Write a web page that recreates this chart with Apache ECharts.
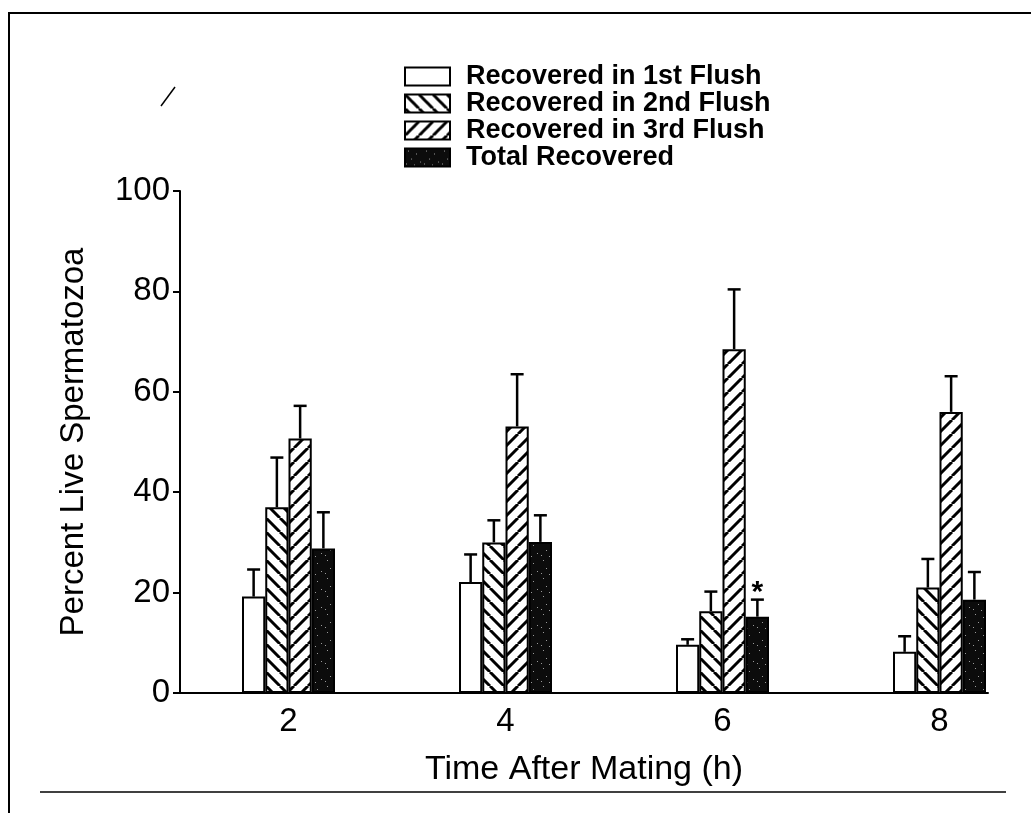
<!DOCTYPE html>
<html>
<head>
<meta charset="utf-8">
<script src="https://cdn.jsdelivr.net/npm/echarts@6/dist/echarts.min.js"></script>
<style>html,body{margin:0;padding:0;background:#fff}#c{width:1031px;height:813px}</style>
</head>
<body>
<div id="c"></div>
<script>
// ---- data ----
const hours = [2, 4, 6, 8];
const seriesNames = ['Recovered in 1st Flush', 'Recovered in 2nd Flush', 'Recovered in 3rd Flush', 'Total Recovered'];
const flush1 = [19.2, 22.1, 9.6, 8.2];
const flush1Err = [5.4, 5.5, 1.1, 3.1];
const flush2 = [37.0, 30.0, 16.3, 21.0];
const flush2Err = [9.9, 4.4, 3.9, 5.7];
const flush3 = [50.7, 53.1, 68.5, 56.0];
const flush3Err = [6.5, 10.4, 11.9, 7.1];
const total = [28.8, 30.1, 15.2, 18.6];
const totalErr = [7.2, 5.3, 3.4, 5.5];
const totalMarks = ['', '', '*', ''];
const xTitle = 'Time After Mating (h)';
const yTitle = 'Percent Live Spermatozoa';

// ---- fills ----
function stripes(dir) {
  const s = 14, c = document.createElement('canvas');
  c.width = s; c.height = s;
  const g = c.getContext('2d');
  g.fillStyle = '#fff'; g.fillRect(0, 0, s, s);
  g.strokeStyle = '#000'; g.lineWidth = 3; g.beginPath();
  for (const k of [-s, 0, s]) {
    if (dir === 'back') { g.moveTo(k, 0); g.lineTo(k + s, s); }
    else { g.moveTo(k, s); g.lineTo(k + s, 0); }
  }
  g.stroke();
  return c;
}
function speckle() {
  const s = 18, c = document.createElement('canvas');
  c.width = s; c.height = s;
  const g = c.getContext('2d');
  g.fillStyle = '#0c0c0c'; g.fillRect(0, 0, s, s);
  g.fillStyle = '#9a9a9a';
  [[3, 2], [11, 5], [6, 10], [15, 13], [1, 15], [9, 16]].forEach(p => g.fillRect(p[0], p[1], 1, 1));
  return c;
}
const fills = [
  '#ffffff',
  { image: stripes('back'), repeat: 'repeat' },
  { image: stripes('fwd'), repeat: 'repeat' },
  { image: speckle(), repeat: 'repeat' }
];

const values = [flush1, flush2, flush3, total];
const errs = [flush1Err, flush2Err, flush3Err, totalErr];
const marks = [['', '', '', ''], ['', '', '', ''], ['', '', '', ''], totalMarks];
const barW = 23.25;

const barSeries = values.map((vals, i) => ({
  type: 'bar',
  name: seriesNames[i],
  barWidth: barW,
  barGap: '0%',
  itemStyle: { color: fills[i], borderColor: '#000', borderWidth: 2 },
  data: hours.map((h, j) => [h, vals[j]])
}));

const errData = [];
const errMarks = [];
values.forEach((vals, i) => hours.forEach((h, j) => {
  errData.push([h, i, vals[j], vals[j] + errs[i][j]]);
  errMarks.push(marks[i][j]);
}));

const chart = echarts.init(document.getElementById('c'), null, { renderer: 'canvas' });
chart.setOption({
  animation: false,
  backgroundColor: '#fff',
  grid: { left: 180, right: 43, top: 191, bottom: 120, outerBoundsMode: 'none' },
  legend: {
    data: seriesNames,
    orient: 'vertical',
    left: 399, top: 58,
    icon: 'rect',
    itemWidth: 45, itemHeight: 18, itemGap: 0,
    selectedMode: false,
    itemStyle: { borderColor: '#000', borderWidth: 2 },
    textStyle: { fontFamily: 'Liberation Sans', fontWeight: 'bold', fontSize: 27, lineHeight: 27, color: '#000', padding: [0, 0, 0, 11] }
  },
  xAxis: {
    type: 'value', min: 1, max: 8.447, interval: 1,
    axisLine: { lineStyle: { color: '#000', width: 2 } },
    axisTick: { show: false },
    splitLine: { show: false },
    axisLabel: {
      color: '#000', fontFamily: 'Liberation Sans', fontSize: 33, margin: 12,
      formatter: v => (hours.indexOf(v) >= 0 ? String(v) : '')
    },
    name: xTitle, nameLocation: 'middle', nameGap: 60,
    nameTextStyle: { color: '#000', fontFamily: 'Liberation Sans', fontSize: 34 }
  },
  yAxis: {
    type: 'value', min: 0, max: 100, interval: 20,
    axisLine: { show: true, lineStyle: { color: '#000', width: 2 } },
    axisTick: { show: true, length: 7, lineStyle: { color: '#000', width: 2 } },
    splitLine: { show: false },
    axisLabel: { color: '#000', fontFamily: 'Liberation Sans', fontSize: 33, margin: 10 },
    name: yTitle, nameLocation: 'middle', nameGap: 90,
    nameTextStyle: { color: '#000', fontFamily: 'Liberation Sans', fontSize: 33 }
  },
  series: barSeries.concat([{
    type: 'custom',
    silent: true,
    z: 5,
    encode: { x: 0, y: 3 },
    data: errData,
    renderItem: function (params, api) {
      const x = api.value(0), si = api.value(1), v = api.value(2), top = api.value(3);
      const p0 = api.coord([x, v]);
      const p1 = api.coord([x, top]);
      const cx = p0[0] + (si - 1.5) * barW;
      const st = { stroke: '#000', lineWidth: 2.5 };
      const children = [
        { type: 'line', shape: { x1: cx, y1: p0[1], x2: cx, y2: p1[1] }, style: st },
        { type: 'line', shape: { x1: cx - 6.5, y1: p1[1], x2: cx + 6.5, y2: p1[1] }, style: st }
      ];
      const m = errMarks[params.dataIndex];
      if (m) {
        children.push({ type: 'text', x: cx, y: p1[1] + 8, style: { text: m, fill: '#000', font: 'bold 30px "Liberation Sans"', align: 'center', verticalAlign: 'bottom' } });
      }
      return { type: 'group', children: children };
    }
  }]),
  graphic: [
    { type: 'line', shape: { x1: 8, y1: 13, x2: 1031, y2: 13 }, style: { stroke: '#000', lineWidth: 2 } },
    { type: 'line', shape: { x1: 9, y1: 13, x2: 9, y2: 813 }, style: { stroke: '#000', lineWidth: 2 } },
    { type: 'line', shape: { x1: 40, y1: 792, x2: 1006, y2: 792 }, style: { stroke: '#000', lineWidth: 1.5 } },
    { type: 'line', shape: { x1: 161, y1: 106, x2: 175, y2: 87 }, style: { stroke: '#000', lineWidth: 1.5 } }
  ]
});
</script>
</body>
</html>
